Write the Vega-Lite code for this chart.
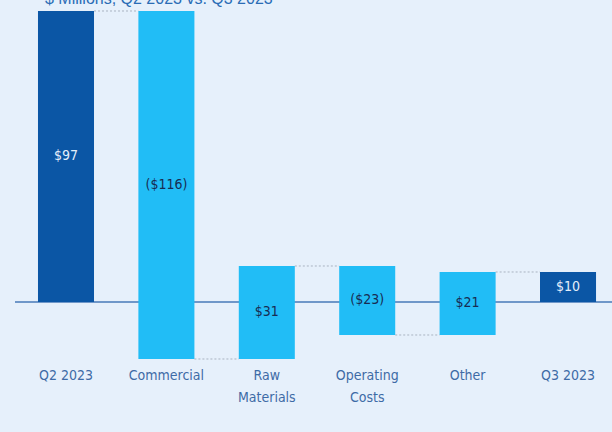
{
  "$schema": "https://vega.github.io/schema/vega-lite/v6.json",
  "width": 597,
  "height": 352,
  "padding": {"left": 15, "top": 10, "right": 0, "bottom": 70},
  "autosize": {"type": "none"},
  "background": "#e6f0fb",
  "title": {
    "text": "$ Millions, Q2 2023 vs. Q3 2023",
    "anchor": "start",
    "frame": "group",
    "dx": 30,
    "offset": 3,
    "font": "Liberation Sans",
    "fontSize": 16,
    "fontWeight": "normal",
    "color": "#2a6cb5"
  },
  "config": {"view": {"stroke": null}},
  "datasets": {
    "bars": [
      {"category": "Q2 2023", "start": 0, "end": 97, "label": "$97", "kind": "total"},
      {"category": "Commercial", "start": 97, "end": -19, "label": "($116)", "kind": "change"},
      {"category": "Raw Materials", "start": -19, "end": 12, "label": "$31", "kind": "change"},
      {"category": "Operating Costs", "start": 12, "end": -11, "label": "($23)", "kind": "change"},
      {"category": "Other", "start": -11, "end": 10, "label": "$21", "kind": "change"},
      {"category": "Q3 2023", "start": 0, "end": 10, "label": "$10", "kind": "total"}
    ],
    "links": [
      {"from": "Q2 2023", "to": "Commercial", "level": 97},
      {"from": "Commercial", "to": "Raw Materials", "level": -19},
      {"from": "Raw Materials", "to": "Operating Costs", "level": 12},
      {"from": "Operating Costs", "to": "Other", "level": -11},
      {"from": "Other", "to": "Q3 2023", "level": 10}
    ]
  },
  "layer": [
    {
      "data": {"values": [{"zero": 0}]},
      "mark": {"type": "rule", "color": "#6f97c9", "strokeWidth": 2},
      "encoding": {
        "y": {"field": "zero", "type": "quantitative", "scale": {"domain": [-20, 97.33], "nice": false, "zero": false}, "axis": null}
      }
    },
    {
      "data": {"name": "links"},
      "mark": {"type": "rule", "color": "#a9b3c1", "strokeWidth": 1, "strokeDash": [2, 2]},
      "encoding": {
        "x": {"field": "from", "type": "nominal", "bandPosition": 1},
        "x2": {"field": "to", "bandPosition": 0},
        "y": {"field": "level", "type": "quantitative"}
      }
    },
    {
      "data": {"name": "bars"},
      "mark": {"type": "bar"},
      "encoding": {
        "x": {
          "field": "category",
          "type": "nominal",
          "sort": null,
          "scale": {
            "domain": ["Q2 2023", "Commercial", "Raw Materials", "Operating Costs", "Other", "Q3 2023"],
            "paddingInner": 0.442,
            "paddingOuter": 0.194,
            "align": 0.59
          },
          "axis": {
            "title": null,
            "labelAngle": 0,
            "labelAlign": "center",
            "domain": false,
            "ticks": false,
            "labelPadding": 13,
            "labelFont": "DejaVu Sans Condensed, Liberation Sans",
            "labelFontSize": 14,
            "labelColor": "#3e6ba6",
            "labelLineHeight": 22,
            "labelExpr": "indexof(['Raw Materials','Operating Costs'], datum.value) >= 0 ? split(datum.value, ' ') : datum.value"
          }
        },
        "y": {"field": "start", "type": "quantitative"},
        "y2": {"field": "end"},
        "color": {
          "field": "kind",
          "type": "nominal",
          "scale": {"domain": ["total", "change"], "range": ["#0b56a5", "#21bdf6"]},
          "legend": null
        }
      }
    },
    {
      "data": {"name": "bars"},
      "transform": [{"calculate": "(datum.start + datum.end) / 2", "as": "mid"}],
      "mark": {"type": "text", "font": "DejaVu Sans Condensed, Liberation Sans", "fontSize": 14, "baseline": "middle"},
      "encoding": {
        "x": {"field": "category", "type": "nominal"},
        "y": {"field": "mid", "type": "quantitative"},
        "text": {"field": "label"},
        "color": {
          "field": "kind",
          "type": "nominal",
          "scale": {"domain": ["total", "change"], "range": ["#e3eefb", "#182c52"]},
          "legend": null
        }
      }
    }
  ],
  "resolve": {"scale": {"color": "independent"}}
}
